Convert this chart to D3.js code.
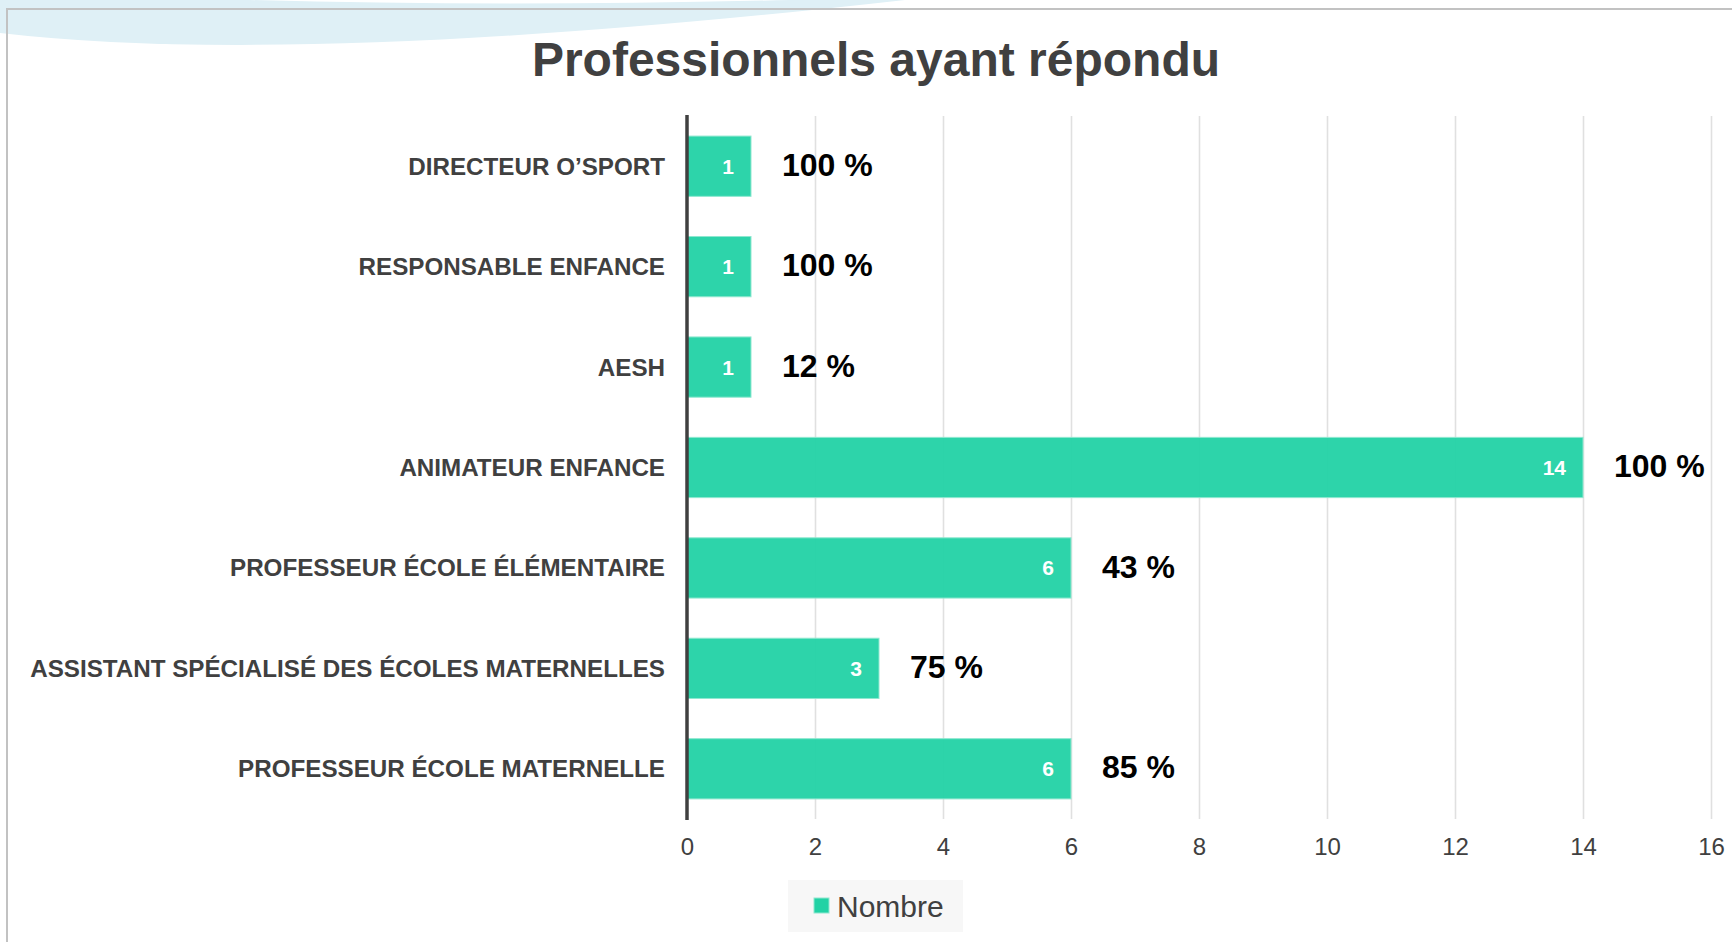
<!DOCTYPE html>
<html>
<head>
<meta charset="utf-8">
<script src="https://cdn.jsdelivr.net/npm/d3@7"></script>
<style>
  html, body { margin: 0; padding: 0; background: #fff; }
  svg { display: block; font-family: 'Liberation Sans', Arial, sans-serif; }
</style>
</head>
<body>
<svg id="chart" width="1732" height="942"></svg>
<script>
// data
const categories = [
  'DIRECTEUR O’SPORT',
  'RESPONSABLE ENFANCE',
  'AESH',
  'ANIMATEUR ENFANCE',
  'PROFESSEUR ÉCOLE ÉLÉMENTAIRE',
  'ASSISTANT SPÉCIALISÉ DES ÉCOLES MATERNELLES',
  'PROFESSEUR ÉCOLE MATERNELLE'
]
const counts = [1, 1, 1, 14, 6, 3, 6]
const rates = ['100 %', '100 %', '12 %', '100 %', '43 %', '75 %', '85 %']
const xTicks = [0, 2, 4, 6, 8, 10, 12, 14, 16]
const seriesName = 'Nombre'
const title = 'Professionnels ayant répondu'

const rows = categories.map((c, i) => ({ name: c, value: counts[i], rate: rates[i] }))

const svg = d3.select('#chart')
const W = 1732
const plot = { left: 687, right: 1711, top: 116, bottom: 819 }
const green = '#22d2a5'
const dark = '#404040'

// slide decoration: pale blue swoosh + frame
svg.append('path')
  .attr('d', 'M0,0 L0,33 Q300,68 905,0 Z')
  .attr('fill', '#dff0f6')
svg.append('path')
  .attr('d', 'M250,0 Q500,7 790,0 Z')
  .attr('fill', '#fff')
svg.append('path')
  .attr('d', 'M7,942 L7,9 L' + W + ',9')
  .attr('fill', 'none')
  .attr('stroke', '#c2c2c2')
  .attr('stroke-width', 2)

let x = d3.scaleLinear()
  .domain([0, 16])
  .range([plot.left, plot.right])

let y = d3.scaleBand()
  .domain(categories)
  .range([plot.top, plot.bottom])
  .paddingInner(0.4)
  .paddingOuter(0.2)

// gridlines fade from light at the top to darker near the axis
let grad = svg.append('defs').append('linearGradient')
  .attr('id', 'gridFade')
  .attr('gradientUnits', 'userSpaceOnUse')
  .attr('x1', 0).attr('x2', 0)
  .attr('y1', plot.top).attr('y2', plot.bottom)
grad.append('stop').attr('offset', '0%').attr('stop-color', '#e0e0e0')
grad.append('stop').attr('offset', '100%').attr('stop-color', '#9c9c9c')

svg.append('g')
  .attr('class', 'grid')
  .attr('transform', 'translate(0,' + plot.bottom + ')')
  .call(d3.axisBottom(x).tickValues(xTicks.slice(1)).tickSize(-(plot.bottom - plot.top)).tickFormat(''))
  .call(g => g.select('.domain').remove())
  .call(g => g.selectAll('line').attr('stroke', 'url(#gridFade)').attr('stroke-width', 1.6))

// x axis labels
svg.append('g')
  .attr('transform', 'translate(0,' + plot.bottom + ')')
  .call(d3.axisBottom(x).tickValues(xTicks).tickSize(0).tickPadding(19))
  .call(g => g.select('.domain').remove())
  .call(g => g.selectAll('text')
    .attr('fill', dark)
    .style('font-size', '24px')
    .style('font-family', "'Liberation Sans', Arial, sans-serif"))

// bars
svg.append('g')
  .selectAll('rect')
  .data(rows)
  .join('rect')
  .attr('x', x(0))
  .attr('y', d => y(d.name))
  .attr('width', d => x(d.value) - x(0))
  .attr('height', y.bandwidth())
  .attr('fill', green)
  .attr('fill-opacity', 0.95)
  .attr('stroke', '#8fe8d0')
  .attr('stroke-width', 1)

// counts inside bars
svg.append('g')
  .selectAll('text')
  .data(rows)
  .join('text')
  .attr('x', d => x(d.value) - 17)
  .attr('y', d => y(d.name) + y.bandwidth() / 2)
  .attr('dy', '0.36em')
  .attr('text-anchor', 'end')
  .attr('fill', '#fff')
  .style('font-weight', 'bold')
  .style('font-size', '21px')
  .text(d => d.value)

// response rates next to bars
svg.append('g')
  .selectAll('text')
  .data(rows)
  .join('text')
  .attr('x', d => x(d.value) + 31)
  .attr('y', d => y(d.name) + y.bandwidth() / 2)
  .attr('dy', '0.3em')
  .attr('fill', '#000')
  .style('font-weight', 'bold')
  .style('font-size', '32px')
  .text(d => d.rate)

// category labels
svg.append('g')
  .selectAll('text')
  .data(rows)
  .join('text')
  .attr('x', plot.left - 22)
  .attr('y', d => y(d.name) + y.bandwidth() / 2)
  .attr('dy', '0.35em')
  .attr('text-anchor', 'end')
  .attr('fill', dark)
  .style('font-weight', 'bold')
  .style('font-size', '24.2px')
  .text(d => d.name)

// y axis line
svg.append('line')
  .attr('x1', x(0)).attr('x2', x(0))
  .attr('y1', plot.top - 1).attr('y2', plot.bottom + 1)
  .attr('stroke', dark)
  .attr('stroke-width', 3.5)

// title
svg.append('text')
  .attr('x', 876)
  .attr('y', 76)
  .attr('text-anchor', 'middle')
  .attr('fill', dark)
  .style('font-weight', 'bold')
  .style('font-size', '48px')
  .text(title)

// legend
let legend = svg.append('g').attr('transform', 'translate(788,880)')
legend.append('rect')
  .attr('width', 175)
  .attr('height', 52)
  .attr('fill', '#f7f7f7')
legend.append('rect')
  .attr('x', 26).attr('y', 18)
  .attr('width', 15).attr('height', 15)
  .attr('fill', green)
  .attr('stroke', '#8fe8d0')
legend.append('text')
  .attr('x', 49)
  .attr('y', 26)
  .attr('dy', '0.35em')
  .attr('fill', dark)
  .style('font-size', '30px')
  .text(seriesName)
</script>
</body>
</html>
